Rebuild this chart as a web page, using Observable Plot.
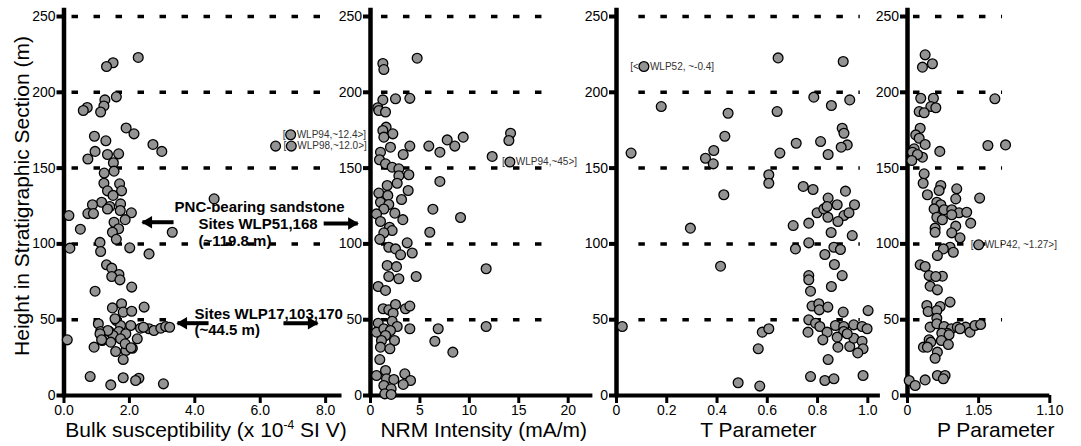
<!DOCTYPE html>
<html>
<head>
<meta charset="utf-8">
<script src="https://cdn.jsdelivr.net/npm/d3@7"></script>
<script src="https://cdn.jsdelivr.net/npm/@observablehq/plot@0.6"></script>
<style>
  html, body { margin: 0; padding: 0; background: #fff; }
  #chart { position: relative; width: 1081px; height: 446px; overflow: hidden; background: #fff; }
  #chart svg { position: absolute; top: 0; overflow: visible; }
</style>
</head>
<body>
<div id="chart"></div>
<script>
// ---------------- data ----------------
const heightTicks = [0, 50, 100, 150, 200, 250];
const gridLevels = [50, 100, 150, 200, 250];

const bulkTicks = [0, 2, 4, 6, 8];
const nrmTicks = [0, 5, 10, 15, 20];
const tTicks = [0, 0.2, 0.4, 0.6, 0.8, 1.0];
const pTicks = [1.0, 1.05, 1.10];
const pTickLabels = ["0", "1.05", "1.10"];

const titles = [
  "Bulk susceptibility (x 10⁻⁴ SI V)",
  "NRM Intensity (mA/m)",
  "T Parameter",
  "P Parameter"
];
const yTitle = "Height in Stratigraphic Section (m)";

// [value, height (m)]
const bulkPoints = [[2.27,223],[1.50,219.5],[1.30,217],[1.60,197],[1.25,195],[1.22,191],[0.71,190],[0.59,188],[1.12,187],[1.90,176.5],[2.14,172.6],[0.93,171],[1.28,168],[2.72,165.6],[2.99,161],[0.95,161],[0.73,156],[1.33,159],[1.67,159.4],[1.51,153.5],[1.53,148],[1.23,146.7],[1.22,140],[1.70,139.6],[1.76,135],[1.33,135],[1.50,132],[4.59,129.7],[1.15,127.5],[0.87,125.8],[1.73,126.4],[1.40,124.7],[1.72,122],[1.33,123],[2.06,120.5],[0.73,120],[0.90,120],[0.15,118.7],[1.87,116],[1.53,114.3],[0.50,109.7],[1.67,110],[1.48,107.7],[3.31,107.7],[1.60,103],[1.10,101],[0.18,97.2],[2.01,97.4],[1.12,95],[2.60,93.4],[1.30,86.2],[1.46,84],[1.68,79.8],[1.46,78.5],[1.71,76.3],[2.07,71.5],[0.95,68.8],[2.45,58.3],[1.76,60.5],[1.48,57.8],[1.81,55],[2.07,55.6],[1.60,49.5],[1.05,47.3],[2.04,46.2],[1.73,46.2],[2.34,44.4],[2.60,44],[2.75,42.9],[2.96,44.4],[3.11,45.5],[3.23,45],[1.12,42.2],[1.38,42.2],[1.68,42.2],[1.89,40.7],[1.50,39.6],[1.73,37.4],[2.24,37.4],[0.10,36.7],[1.17,36.3],[1.43,35.2],[0.92,31.9],[2.09,31.2],[1.89,29.7],[1.58,29],[1.81,23.7],[0.80,12.5],[1.81,11.7],[2.29,11.4],[2.19,9.9],[1.43,7],[3.04,7.7],[6.47,164.5],[1.34,42.9],[1.10,40.7],[1.15,36.7],[1.56,50.6],[1.87,34.1],[2.05,31.5],[2.43,45]];

const nrmPoints = [[4.72,222.5],[1.25,219],[1.35,215],[3.98,196],[2.53,195.7],[1.25,195],[0.74,189.8],[0.84,188],[1.52,187],[1.58,177],[1.25,174.8],[2.26,172.6],[1.35,170.4],[2.02,163.8],[3.98,164.5],[5.90,164.5],[7.02,160.5],[7.76,168.6],[8.53,164.5],[9.38,170.4],[14.17,173],[14.0,168.2],[12.31,157.7],[3.31,159],[1.01,160.5],[0.91,155.5],[1.52,152.8],[2.19,150.6],[2.87,149.5],[2.87,145],[3.88,145.6],[2.70,140],[7.02,141.2],[1.69,138.5],[0.84,133.5],[1.75,132],[3.81,135.2],[3.14,129.3],[1.01,127.5],[1.85,126],[1.35,123],[6.31,122.9],[0.61,119.8],[2.46,120.3],[1.01,114.8],[3.27,116],[9.11,117.4],[1.92,111],[2.19,108.8],[6.0,107.7],[1.35,107.3],[0.94,103],[3.71,100.7],[1.85,97.8],[2.53,96.7],[3.04,92.8],[4.22,94],[1.69,85.8],[2.63,85],[1.85,78.5],[2.87,77],[4.62,78.5],[11.70,83.6],[0.78,71.9],[1.52,69.3],[1.28,57.2],[1.85,56.5],[2.53,60],[3.54,57.2],[3.98,59],[2.29,54.3],[2.19,49],[2.70,45.5],[0.78,47.7],[0.61,41.8],[1.35,44],[2.02,42.9],[1.52,39.6],[3.98,44],[6.85,44],[11.70,45.5],[6.51,35.8],[8.33,28.6],[1.11,36.3],[2.43,36.3],[1.01,31.9],[1.96,30.8],[0.94,23.7],[0.61,13.2],[1.52,16.5],[1.62,11],[2.36,10.6],[3.47,14.3],[4.05,9.9],[3.31,7.3],[1.35,6.6],[2.09,4.4],[1.45,1.1],[2.09,0.7]];

const tPoints = [[0.643,222.7],[0.902,220.3],[0.178,190.6],[0.444,186.2],[0.639,187.3],[0.785,196.8],[0.855,191.3],[0.928,195],[0.431,171],[0.898,176.3],[0.905,173],[0.812,167.5],[0.715,166.4],[0.918,165.3],[0.894,163.8],[0.058,159.9],[0.387,161.6],[0.354,156.5],[0.385,152.8],[0.650,159.9],[0.842,159],[0.606,145.6],[0.606,140],[0.427,132.4],[0.743,137.9],[0.782,135.9],[0.911,134.8],[0.842,130.2],[0.878,125.8],[0.947,125.8],[0.798,120.5],[0.825,123.1],[0.838,124.7],[0.841,117.6],[0.905,118.7],[0.925,120.5],[0.703,112.1],[0.765,113.7],[0.881,114.8],[0.294,110.4],[0.854,107.5],[0.938,105.5],[0.765,100.7],[0.712,96.7],[0.865,97.8],[0.891,96.3],[0.829,93],[0.414,85.3],[0.867,86.4],[0.765,79.1],[0.765,76.3],[0.898,79.1],[0.772,68.8],[0.855,71.9],[0.778,59],[0.805,60.5],[0.807,56.5],[0.841,58.3],[0.902,55],[1.001,56],[0.765,49.9],[0.792,47.7],[0.762,41.8],[0.809,45.5],[0.838,41.8],[0.871,46.2],[0.904,45.5],[0.904,42.2],[0.944,46.6],[0.977,45.5],[0.997,44],[0.821,36.7],[0.878,38.5],[0.881,31.9],[0.928,32.3],[0.944,37.8],[0.977,35.8],[0.981,30.8],[0.960,28.1],[0.023,45.5],[0.580,41.8],[0.606,44],[0.564,30.8],[0.842,23.7],[0.772,12.5],[0.829,9.9],[0.865,11],[0.981,13.2],[0.484,8.4],[0.570,6.2],[0.918,40.7]];

const pPoints = [[1.0124,224.7],[1.0105,216.6],[1.0175,218.8],[1.0093,196.1],[1.0182,196.1],[1.0164,190.6],[1.0199,189.8],[1.0082,187.3],[1.0117,186.5],[1.0614,195.7],[1.0089,176.3],[1.0058,171.9],[1.0082,169.7],[1.0124,165.6],[1.0047,162.7],[1.0035,160.5],[1.0105,157.2],[1.0070,159],[1.0227,161],[1.0565,164.9],[1.0689,165.3],[1.0030,155],[1.0117,146.2],[1.0110,140],[1.0140,132.4],[1.0234,138.5],[1.0222,135.2],[1.0346,136.3],[1.0339,129.7],[1.0507,130.2],[1.0206,127.5],[1.0234,125.8],[1.0187,123.1],[1.0257,122.5],[1.0311,122.5],[1.0362,120.5],[1.0416,120.9],[1.0311,119.2],[1.0206,117.6],[1.0245,115.9],[1.0444,113.7],[1.0339,111.7],[1.0194,110.4],[1.0194,107.7],[1.0311,107.3],[1.0369,104],[1.0299,97.8],[1.0252,96.7],[1.0322,94.5],[1.0210,92.3],[1.0089,86.2],[1.0124,85.1],[1.0152,79.1],[1.0245,78.7],[1.0199,78.5],[1.0159,72.1],[1.0210,69.7],[1.0299,61.6],[1.0136,59.4],[1.0229,58.7],[1.0145,55.4],[1.0206,56.1],[1.0206,51],[1.0159,45.1],[1.0206,47.3],[1.0257,45.5],[1.0308,44],[1.0350,45.1],[1.0409,45.1],[1.0439,41.8],[1.0474,46.2],[1.0514,46.8],[1.0280,41.1],[1.0241,41.1],[1.0292,40],[1.0369,44],[1.0152,36.7],[1.0112,31.9],[1.0164,35.2],[1.0238,36.3],[1.0287,33.6],[1.0210,28.6],[1.0194,24.6],[1.0210,13.2],[1.0264,13.2],[1.0252,11],[1.0124,10.3],[1.0012,9.9],[1.0054,6.6],[1.0140,31.9]];

// off-scale points drawn at the panel edge, with their labels
const bulkOff = [[6.93,172],[6.95,164.5]];
const bulkOffPrefix = ["[", "["];
const bulkOffLabels = ["WLP94,~12.4>]", "WLP98,~12.0>]"];
const nrmOff = [[14.1,154]];
const nrmOffPrefix = ["["];
const nrmOffLabels = ["WLP94,~45>]"];
const tOff = [[0.109,217]];
const tOffPrefix = ["[<"];
const tOffLabels = ["WLP52, ~-0.4]"];
const pOff = [[1.05,99.4]];
const pOffPrefix = ["["];
const pOffLabels = ["WLP42, ~1.27>]"];

// annotations (panel 1 coordinates: susceptibility, height m)
const noteText = ["PNC-bearing sandstone", "Sites WLP51,168", "(~119.8 m)", "Sites WLP17,103,170", "(~44.5 m)"];
const noteX = [3.38, 4.11, 4.11, 3.99, 3.99];
const noteY = [124.0, 113.0, 102.0, 53.6, 42.8];
const arrowFromX = [3.35, 7.94, 4.42, 6.71];
const arrowToX = [2.40, 8.98, 3.47, 7.75];
const arrowY = [114.3, 113.5, 47.7, 47.7];

// ---------------- drawing ----------------
const FONT = '"Liberation Sans", Arial, Helvetica, sans-serif';
const POINT_FILL = "#939393";

const panels = [
  {left: 0, width: 345, ml: 63.5, mr: 3.5, domain: [0, 8.5], ticks: bulkTicks, fmt: d => d.toFixed(1),
   points: bulkPoints, off: bulkOff, offPrefix: bulkOffPrefix, offLabels: bulkOffLabels,
   title: titles[0], titleDx: 3, gridStart: 0.245, gridEnd: [3.3, 8.24, 8.24, 8.24, 8.24], first: true},
  {left: 345, width: 250, ml: 25, mr: 2.6, domain: [0, 22.5], ticks: nrmTicks, fmt: d => String(d),
   points: nrmPoints, off: nrmOff, offPrefix: nrmOffPrefix, offLabels: nrmOffLabels,
   title: titles[1], titleDx: 2, gridStart: 1.11, gridEnd: [18.9, 18.9, 18.9, 18.9, 18.9]},
  {left: 595, width: 290, ml: 21, mr: 5.1, domain: [0, 1.05], ticks: tTicks, fmt: d => d === 0 ? "0" : d.toFixed(1),
   points: tPoints, off: tOff, offPrefix: tOffPrefix, offLabels: tOffLabels,
   title: titles[2], titleDx: 10, gridStart: 0.089, gridEnd: [0.97, 0.97, 0.97, 0.97, 0.97]},
  {left: 885, width: 196, ml: 22, mr: 31.7, domain: [1.0, 1.10], ticks: pTicks, fmt: (d, i) => pTickLabels[i],
   points: pPoints, off: pOff, offPrefix: pOffPrefix, offLabels: pOffLabels,
   title: titles[3], titleDx: 17, gridStart: 1.0042, gridEnd: [1.0668, 1.0668, 1.0668, 1.0668, 1.0668]}
];

const container = document.getElementById("chart");

for (const p of panels) {
  const x0 = p.domain[0];
  const marks = [];
  if (p.first) {
    const idx = d3.range(noteText.length);
    marks.push(Plot.text(idx, {
      x: i => noteX[i], y: i => noteY[i], text: i => noteText[i],
      textAnchor: "start", fontWeight: "bold", fontSize: 15, fill: "black"
    }));
    const aidx = d3.range(arrowY.length);
    // arrow shafts
    marks.push(Plot.link(aidx, {
      x1: i => arrowFromX[i], x2: i => arrowToX[i], y1: i => arrowY[i], y2: i => arrowY[i],
      stroke: "black", strokeWidth: 4
    }));
    // solid arrow heads
    const leftHeads = aidx.filter(i => arrowToX[i] < arrowFromX[i]);
    const rightHeads = aidx.filter(i => arrowToX[i] >= arrowFromX[i]);
    marks.push(Plot.dot(leftHeads, {x: i => arrowToX[i], y: i => arrowY[i], symbol: "triangle", r: 4.6, rotate: -90, dx: 6, fill: "black", stroke: "none"}));
    marks.push(Plot.dot(rightHeads, {x: i => arrowToX[i], y: i => arrowY[i], symbol: "triangle", r: 4.6, rotate: 90, dx: -6, fill: "black", stroke: "none"}));
    marks.push(Plot.text([yTitle], {
      text: d => d, frameAnchor: "left", textAnchor: "middle", lineAnchor: "middle",
      rotate: -90, dx: -41.5, dy: -10, fontSize: 21, fill: "black"
    }));
  }
  const gridData = gridLevels.map((lv, i) => ({lv, x2: p.gridEnd[i]}));
  marks.push(Plot.ruleY(gridData, {y: "lv", x1: p.gridStart, x2: "x2", stroke: "black", strokeWidth: 3.5, strokeDasharray: "6.5,15.5"}));
  marks.push(Plot.ruleY([0], {x1: x0, x2: p.domain[1], stroke: "black", strokeWidth: 4}));
  marks.push(Plot.ruleX([x0], {y1: 0, y2: 254, stroke: "black", strokeWidth: 4.5, strokeLinecap: "square"}));
  marks.push(Plot.axisY({ticks: heightTicks, tickSize: 7, tickPadding: 1.5, strokeWidth: 4, fontSize: 14, label: null}));
  marks.push(Plot.axisX({ticks: p.ticks, tickFormat: p.fmt, tickSize: 8, tickPadding: 2, strokeWidth: 3, fontSize: 14, label: null}));
  const offIdx = d3.range(p.off.length);
  marks.push(Plot.text(offIdx, {x: i => p.off[i][0], y: i => p.off[i][1], text: i => p.offPrefix[i], textAnchor: "end", dx: -5, fontSize: 10, fill: "#333"}));
  marks.push(Plot.text(offIdx, {x: i => p.off[i][0], y: i => p.off[i][1], text: i => p.offLabels[i], textAnchor: "start", dx: 6, fontSize: 10, fill: "#333"}));
  marks.push(Plot.dot(p.points, {x: d => d[0], y: d => d[1], r: 4.9, fill: POINT_FILL, stroke: "black", strokeWidth: 1.3}));
  marks.push(Plot.dot(p.off, {x: d => d[0], y: d => d[1], r: 4.9, fill: POINT_FILL, stroke: "black", strokeWidth: 1.3}));
  marks.push(Plot.text([p.title], {text: d => d, frameAnchor: "bottom", lineAnchor: "middle", dy: 35, dx: p.titleDx, fontSize: 21, fill: "black"}));

  const svg = Plot.plot({
    width: p.width, height: 446,
    marginLeft: p.ml, marginRight: p.mr, marginTop: 16, marginBottom: 51,
    x: {domain: p.domain},
    y: {domain: [0, 250]},
    style: {background: "transparent", overflow: "visible", fontFamily: FONT, color: "black"},
    marks
  });
  svg.style.left = p.left + "px";
  // superscript in the susceptibility unit
  d3.select(svg).selectAll("text").filter(function() { return this.textContent === titles[0]; }).each(function() {
    const t = d3.select(this);
    t.text(null);
    t.append("tspan").text("Bulk susceptibility (x 10");
    t.append("tspan").attr("dy", "-8").attr("font-size", "12").text("-4");
    t.append("tspan").attr("dy", "8").text(" SI V)");
  });
  container.appendChild(svg);
}
</script>
</body>
</html>
